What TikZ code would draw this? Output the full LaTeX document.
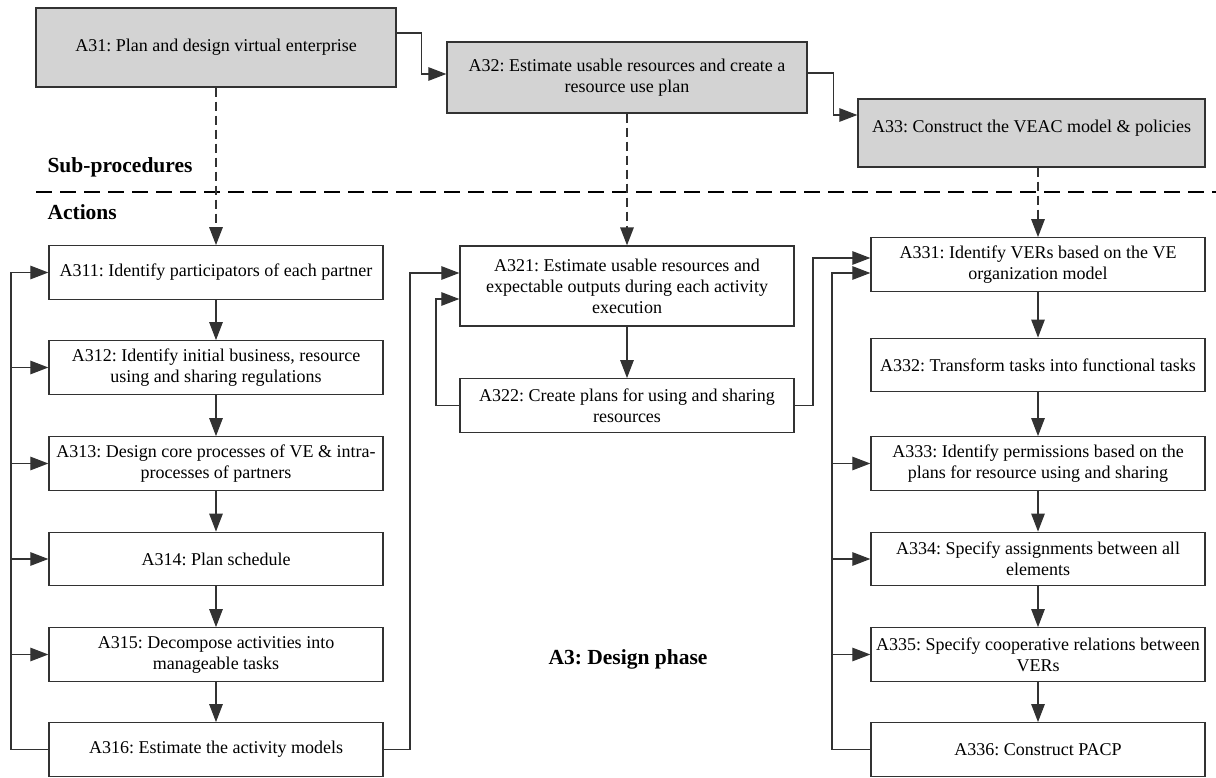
\documentclass[tikz,border=0pt]{standalone}
\usepackage{fontspec}
\setmainfont{Liberation Serif}
\frenchspacing
\usetikzlibrary{arrows.meta}
\definecolor{linegray}{RGB}{50,50,50}
\definecolor{boxgray}{RGB}{211,211,211}
\begin{document}
\begin{tikzpicture}[x=1pt,y=-1pt,
  every node/.style={font=\fontsize{18}{21}\selectfont, text=black},
  box/.style={draw=linegray, line width=1.3pt, minimum width=334pt,
    minimum height=53.5pt, align=center, inner sep=0pt},
  topbox/.style={box, fill=boxgray, minimum width=360pt},
  tip/.style={-{Triangle[length=18pt,width=13.5pt]}},
  flow/.style={draw=linegray, line width=1.2pt, tip},
  subflow/.style={draw=linegray, line width=1.5pt, dash pattern=on 9pt off 5pt, tip},
  divider/.style={draw=black, line width=2.6pt, dash pattern=on 16pt off 8pt},
  heading/.style={font=\bfseries\fontsize{21.5}{24}\selectfont, anchor=west}
]
\useasboundingbox (0,0) rectangle (1216,778);

% sub-procedures
\node[topbox, minimum height=79pt] (A31) at (216,47.5) {A31: Plan and design virtual enterprise};
\node[topbox, minimum height=71pt] (A32) at (627,77.5) {A32: Estimate usable resources and create a\\resource use plan};
\node[topbox, minimum width=347pt, minimum height=68pt, text height=12pt, text depth=12pt]
  (A33) at (1031.5,133) {A33: Construct the VEAC model \& policies};

% layer labels and divider
\node[heading] (lsub) at (44,167) {Sub-procedures};
\node[heading] (lact) at (44,212) {Actions};
\coordinate (divL) at (36,192);
\coordinate (divR) at (1216,192);
\draw[divider] (divL) -- (divR);
\node[font=\bfseries\fontsize{21.5}{24}\selectfont] (phase) at (628,659) {A3: Design phase};

% actions of A31
\node[box] (A311) at (216,272.5) {A311: Identify participators of each partner};
\node[box] (A312) at (216,367.5) {A312: Identify initial business, resource\\using and sharing regulations};
\node[box] (A313) at (216,463.5) {A313: Design core processes of VE \& intra-\\processes of partners};
\node[box] (A314) at (216,559) {A314: Plan schedule};
\node[box] (A315) at (216,654.5) {A315: Decompose activities into\\manageable tasks};
\node[box] (A316) at (216,749.5) {A316: Estimate the activity models};

% actions of A32
\node[box, minimum height=80pt] (A321) at (627,286) {A321: Estimate usable resources and\\expectable outputs during each activity\\execution};
\node[box] (A322) at (627,405.5) {A322: Create plans for using and sharing\\resources};

% actions of A33
\node[box] (A331) at (1038,264.5) {A331: Identify VERs based on the VE\\organization model};
\node[box] (A332) at (1038,365) {A332: Transform tasks into functional tasks};
\node[box] (A333) at (1038,463.5) {A333: Identify permissions based on the\\plans for resource using and sharing};
\node[box] (A334) at (1038,559) {A334: Specify assignments between all\\elements};
\node[box] (A335) at (1038,654.5) {A335: Specify cooperative relations between\\VERs};
\node[box] (A336) at (1038,749.5) {A336: Construct PACP};

% sequence of sub-procedures
\draw[flow] ([yshift=14.5pt]A31.east) -- ++(25,0) |- ([yshift=3.5pt]A32.west);
\draw[flow] ([yshift=4.5pt]A32.east) -- ++(26,0) |- ([yshift=18pt]A33.west);

% refinement into actions
\draw[subflow] (A31.south) -- (A311.north);
\draw[subflow] (A32.south) -- (A321.north);
\draw[subflow] (A331.north |- A33.south) -- (A331.north);

% sequences within columns
\foreach \a/\b in {A311/A312,A312/A313,A313/A314,A314/A315,A315/A316,
                   A321/A322,
                   A331/A332,A332/A333,A333/A334,A334/A335,A335/A336}
  \draw[flow] (\a.south) -- (\b.north);

% loop-back buses
\coordinate (busL) at (11,0);
\coordinate (busM) at (410,0);
\coordinate (busN) at (436,0);
\coordinate (busP) at (813,0);
\coordinate (busR) at (832,0);

\draw[flow] (A316.west) -- (A316.west -| busL) |- (A311.west);
\foreach \n in {A312,A313,A314,A315}
  \draw[flow] (busL |- \n.west) -- (\n.west);

\draw[flow] (A316.east) -- (A316.east -| busM) |- ([yshift=13pt]A321.west);
\draw[flow] (A322.west) -- (A322.west -| busN) |- ([yshift=-13pt]A321.west);
\draw[flow] (A322.east) -- (A322.east -| busP) |- ([yshift=6.5pt]A331.west);

\draw[flow] (A336.west) -- (A336.west -| busR) |- ([yshift=-8.5pt]A331.west);
\foreach \n in {A333,A334,A335}
  \draw[flow] (busR |- \n.west) -- (\n.west);
\end{tikzpicture}
\end{document}
